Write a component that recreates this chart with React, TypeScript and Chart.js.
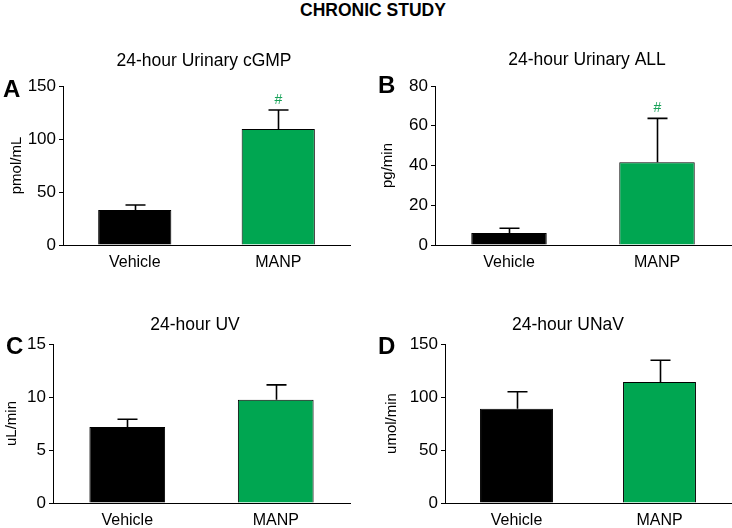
import React, { useEffect, useRef } from "react";
import { Chart, registerables } from "chart.js";

Chart.register(...registerables);

const FONT = "'Liberation Sans', Arial, Helvetica, sans-serif";

const categories = ["Vehicle", "MANP"];
const barColors = ["#000000", "#00A651"];

const cgmpValues = [33, 109.4];
const cgmpErrors = [4.7, 18];
const cgmpMarks = ["", "#"];
const cgmpTicks = [0, 50, 100, 150];

const allValues = [6.0, 41.6];
const allErrors = [2.4, 22.1];
const allMarks = ["", "#"];
const allTicks = [0, 20, 40, 60, 80];

const uvValues = [7.16, 9.73];
const uvErrors = [0.74, 1.41];
const uvMarks = ["", ""];
const uvTicks = [0, 5, 10, 15];

const unavValues = [88.8, 114.2];
const unavErrors = [16.2, 20.4];
const unavMarks = ["", ""];
const unavTicks = [0, 50, 100, 150];

type PanelProps = {
  letter: string;
  title: string;
  yTitle: string;
  values: number[];
  errors: number[];
  marks: string[];
  ticks: number[];
  left: number;
  top: number;
  width: number;
  height: number;
  padTop: number;
  padRight: number;
  yWidth: number;
  xHeight: number;
  yTitlePad: number;
  titleX: number;
  titleY: number;
  letterX: number;
  letterY: number;
};

function Panel(p: PanelProps) {
  const ref = useRef<HTMLCanvasElement | null>(null);
  useEffect(() => {
    if (!ref.current) return;
    const decor = {
      id: "decor",
      afterDatasetsDraw(chart: any) {
        const { ctx } = chart;
        const meta = chart.getDatasetMeta(0);
        const ys = chart.scales.y;
        ctx.save();
        ctx.strokeStyle = "#000";
        ctx.lineWidth = 1.6;
        meta.data.forEach((el: any, i: number) => {
          const topPx = ys.getPixelForValue(p.values[i] + p.errors[i]);
          const x = Math.round(el.x) + 0.5;
          ctx.beginPath();
          ctx.moveTo(x, el.y);
          ctx.lineTo(x, topPx);
          ctx.moveTo(x - 10, topPx);
          ctx.lineTo(x + 10, topPx);
          ctx.stroke();
          if (p.marks[i]) {
            ctx.fillStyle = "#1AA35A";
            ctx.font = `14px ${FONT}`;
            ctx.textAlign = "center";
            ctx.textBaseline = "middle";
            ctx.fillText(p.marks[i], x, topPx - 10);
          }
        });
        ctx.restore();
      },
      afterDraw(chart: any) {
        const { ctx } = chart;
        ctx.save();
        ctx.fillStyle = "#000";
        ctx.font = `17.5px ${FONT}`;
        ctx.textAlign = "center";
        ctx.textBaseline = "middle";
        ctx.fillText(p.title, p.titleX, p.titleY);
        ctx.font = `bold 24px ${FONT}`;
        ctx.textAlign = "left";
        ctx.textBaseline = "alphabetic";
        ctx.fillText(p.letter, p.letterX, p.letterY);
        ctx.restore();
      },
    };
    const chart = new Chart(ref.current, {
      type: "bar",
      data: {
        labels: categories,
        datasets: [
          {
            data: p.values,
            backgroundColor: barColors,
            borderColor: "#000",
            borderWidth: 1,
            barPercentage: 0.51,
            categoryPercentage: 1,
          },
        ],
      },
      options: {
        responsive: false,
        animation: false,
        layout: { padding: { top: p.padTop, right: p.padRight, bottom: 0, left: 0 } },
        plugins: {
          legend: { display: false },
          tooltip: { enabled: false },
          title: { display: false },
        },
        scales: {
          x: {
            grid: { display: false },
            border: { display: true, color: "#000", width: 1 },
            ticks: { color: "#000", font: { family: FONT, size: 16 }, padding: 0 },
            afterFit: (s: any) => {
              s.height = p.xHeight;
            },
          },
          y: {
            min: p.ticks[0],
            max: p.ticks[p.ticks.length - 1],
            afterBuildTicks: (s: any) => {
              s.ticks = p.ticks.map((v) => ({ value: v }));
            },
            grid: {
              display: true,
              drawOnChartArea: false,
              drawTicks: true,
              tickLength: 4,
              color: "#000",
            },
            border: { display: true, color: "#000", width: 1 },
            ticks: { color: "#000", font: { family: FONT, size: 17 }, padding: 3 },
            title: {
              display: true,
              text: p.yTitle,
              color: "#000",
              font: { family: FONT, size: 15 },
              padding: { top: p.yTitlePad, bottom: 0 },
            },
            afterFit: (s: any) => {
              s.width = p.yWidth;
            },
          },
        },
      },
      plugins: [decor],
    });
    return () => chart.destroy();
  }, []);
  return (
    <canvas
      ref={ref}
      width={p.width}
      height={p.height}
      style={{ position: "absolute", left: p.left, top: p.top, width: p.width, height: p.height, display: "block" }}
    />
  );
}

export default function App() {
  return (
    <div
      style={{
        position: "fixed",
        left: 0,
        top: 0,
        width: 732,
        height: 528,
        background: "#fff",
        overflow: "hidden",
      }}
    >
      <div
        style={{
          position: "absolute",
          left: 273,
          top: 0,
          width: 200,
          height: 20,
          lineHeight: "20px",
          textAlign: "center",
          fontFamily: FONT,
          fontWeight: "bold",
          fontSize: 17.5,
          color: "#000",
        }}
      >
        CHRONIC STUDY
      </div>
      <Panel
        letter="A" title="24-hour Urinary cGMP" yTitle="pmol/mL"
        values={cgmpValues} errors={cgmpErrors} marks={cgmpMarks} ticks={cgmpTicks}
        left={0} top={30} width={366} height={246}
        padTop={56} padRight={16} yWidth={63} xHeight={31} yTitlePad={8}
        titleX={204} titleY={31} letterX={3} letterY={67}
      />
      <Panel
        letter="B" title="24-hour Urinary ALL" yTitle="pg/min"
        values={allValues} errors={allErrors} marks={allMarks} ticks={allTicks}
        left={366} top={30} width={366} height={246}
        padTop={56} padRight={1} yWidth={69} xHeight={31} yTitlePad={13}
        titleX={221} titleY={30} letterX={12} letterY={63}
      />
      <Panel
        letter="C" title="24-hour UV" yTitle="uL/min"
        values={uvValues} errors={uvErrors} marks={uvMarks} ticks={uvTicks}
        left={0} top={264} width={366} height={264}
        padTop={80} padRight={16} yWidth={53} xHeight={25} yTitlePad={3}
        titleX={195} titleY={61} letterX={6} letterY={90}
      />
      <Panel
        letter="D" title="24-hour UNaV" yTitle="umol/min"
        values={unavValues} errors={unavErrors} marks={unavMarks} ticks={unavTicks}
        left={366} top={264} width={366} height={264}
        padTop={80} padRight={1} yWidth={79} xHeight={25} yTitlePad={17}
        titleX={202} titleY={61} letterX={12} letterY={90}
      />
    </div>
  );
}
